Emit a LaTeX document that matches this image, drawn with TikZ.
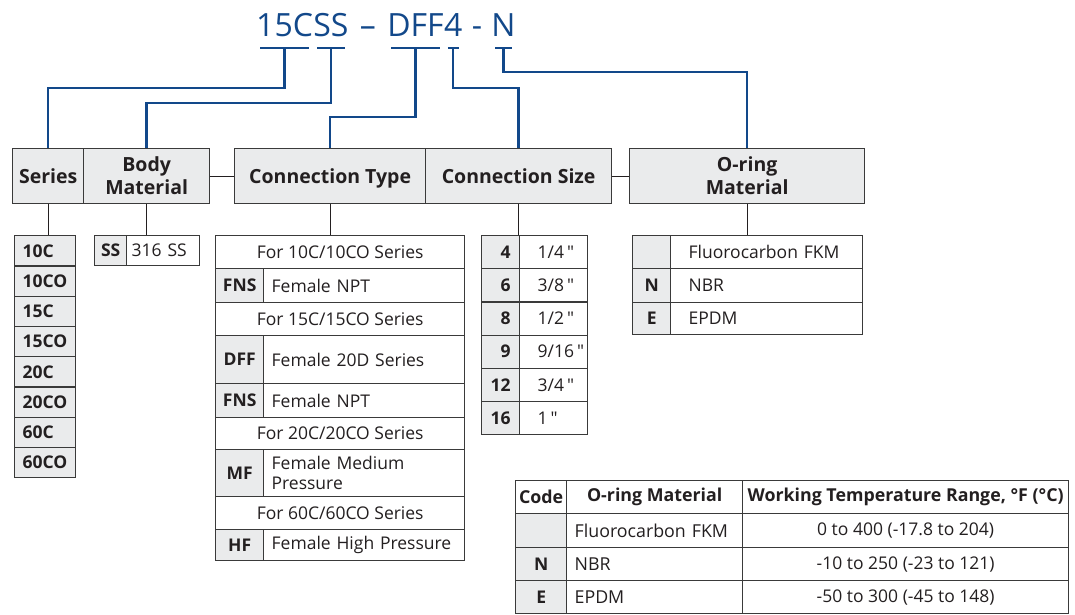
\documentclass[tikz,border=0pt]{standalone}
\usepackage{fontspec}
\setmainfont{Open Sans}[Ligatures=TeXOff]
\usetikzlibrary{calc,positioning}

\definecolor{codeblue}{RGB}{18,72,138}
\definecolor{hdrgray}{RGB}{234,235,236}
\definecolor{rulegray}{RGB}{58,58,58}
\definecolor{inkblack}{RGB}{35,31,32}

\newcommand\hdrfont{\fontsize{19.5}{23}\selectfont\bfseries}
\newcommand\cellfont{\fontsize{17.5}{20}\selectfont}
\newcommand\tabfont{\fontsize{17.8}{20}\selectfont}
\newcommand\codefont{\fontsize{32}{36}\selectfont}

\tikzset{
  cellbox/.style={draw=rulegray, line width=1.3pt, anchor=north west, inner sep=0pt, text=inkblack},
  hdrbox/.style={cellbox, fill=hdrgray, font=\hdrfont, align=center, minimum height=55pt},
  codecell/.style={cellbox, fill=hdrgray, font=\cellfont\bfseries, align=center},
  valcell/.style={cellbox, fill=white, font=\cellfont, align=left},
  forrow/.style={cellbox, fill=white, font=\cellfont, align=center, minimum width=249pt},
  codepart/.style={font=\codefont, text=codeblue, inner sep=0pt, anchor=base west},
  codeline/.style={draw=codeblue, line width=2.4pt},
  stem/.style={draw=inkblack, line width=1.2pt},
}

\begin{document}
\begin{tikzpicture}[x=1pt, y=-1pt]
  \useasboundingbox (0,0) rectangle (1075,615);

  %%%%% part number %%%%%
  \node[codepart] (c15c) at (256,37) {15C};
  \node[codepart] (css) at (c15c.base east) {SS};
  \node[codepart, inner xsep=11pt] (cdasha) at (css.base east) {–};
  \node[codepart] (cdff) at (cdasha.base east) {DFF};
  \node[codepart] (cfour) at (cdff.base east) {4};
  \node[codepart, inner xsep=9pt] (cdashb) at (cfour.base east) {-};
  \node[codepart] (cn) at (cdashb.base east) {N};

  \foreach \part/\bar in {c15c/ba, css/bb, cdff/bc, cfour/bd, cn/be} {
    \draw[codeline] ($(\part.base west)+(4,11)$) -- ($(\part.base east)+(-4,11)$);
    \coordinate (\bar) at ($(\part.base)+(0,11)$);
  }

  %%%%% headers %%%%%
  \node[hdrbox, minimum width=71pt] (series) at (12,148) {Series};
  \node[hdrbox, minimum width=126pt] (body) at (83,148) {Body\\Material};
  \node[hdrbox, minimum width=191pt, text depth=0pt] (ctype) at (234,148) {Connection Type};
  \node[hdrbox, minimum width=186pt] (csize) at (425,148) {Connection Size};
  \node[hdrbox, minimum width=235pt] (oring) at (629,148) {O-ring\\Material};

  \draw[codeline] (ba) -- ++(0,40) -| (series.north);
  \draw[codeline] (bb) -- ++(0,55) -| (body.north);
  \draw[codeline] (bc) -- ++(0,69) -| (ctype.north);
  \draw[codeline] (bd) -- ++(0,40) -| (csize.north);
  \draw[codeline] (be) -- ++(0,24) -| (oring.north);

  \draw[stem] (body.east) -- (ctype.west);
  \draw[stem] (csize.east) -- (oring.west);

  %%%%% series %%%%%
  \foreach \lab [count=\i] in {10C,10CO,15C,15CO,20C,20CO,60C,60CO}
    \node[codecell, align=left, text width=45pt, inner xsep=8pt, minimum height=30.25pt]
      (ser\i) at (14, {235+30.25*(\i-1)}) {\lab};
  \draw[stem] (series.south) -- (series.south |- ser1.north);

  %%%%% body material %%%%%
  \node[codecell, minimum width=32pt, minimum height=30pt] (ssc) at (94,235) {SS};
  \node[valcell, text width=63pt, inner xsep=5pt, minimum height=30pt] (ssv) at (126,235) {316 SS};
  \draw[stem] (body.south) -- (body.south |- ssc.north);

  %%%%% connection type %%%%%
  \node[forrow, minimum height=33pt] (cta) at (215,235) {For 10C/10CO Series};
  \node[codecell, minimum width=48pt, minimum height=34pt] (ctbc) at (215,268) {FNS};
  \node[valcell, text width=185pt, inner xsep=8pt, minimum height=34pt] (ctbv) at (263,268) {Female NPT};
  \node[forrow, minimum height=33pt] (ctc) at (215,302) {For 15C/15CO Series};
  \node[codecell, minimum width=48pt, minimum height=48pt] (ctdc) at (215,335) {DFF};
  \node[valcell, text width=185pt, inner xsep=8pt, minimum height=48pt] (ctdv) at (263,335) {Female 20D Series};
  \node[codecell, minimum width=48pt, minimum height=34pt] (ctec) at (215,383) {FNS};
  \node[valcell, text width=185pt, inner xsep=8pt, minimum height=34pt] (ctev) at (263,383) {Female NPT};
  \node[forrow, minimum height=32pt] (ctf) at (215,417) {For 20C/20CO Series};
  \node[codecell, minimum width=48pt, minimum height=47pt] (ctgc) at (215,449) {MF};
  \node[valcell, text width=185pt, inner xsep=8pt, minimum height=47pt] (ctgv) at (263,449) {Female Medium\\Pressure};
  \node[forrow, minimum height=33pt] (cth) at (215,496) {For 60C/60CO Series};
  \node[codecell, minimum width=48pt, minimum height=31pt] (ctic) at (215,529) {HF};
  \node[valcell, text width=185pt, inner xsep=8pt, minimum height=31pt] (ctiv) at (263,529) {Female High Pressure};
  \draw[stem] (ctype.south) -- (ctype.south |- cta.north);

  %%%%% connection size %%%%%
  \foreach \sz [count=\i] in {4,6,8,9,12,16}
    \node[codecell, align=right, text width=20pt, inner xsep=9pt, minimum height=33.17pt]
      (csc\i) at (481, {235+33.17*(\i-1)}) {\sz};
  \foreach \inch [count=\i] in {1/4,3/8,1/2,9/16,3/4,1}
    \node[valcell, text width=32pt, inner xsep=18pt, minimum height=33.17pt]
      (csv\i) at (519, {235+33.17*(\i-1)}) {\inch\,"};
  \draw[stem] (csize.south) -- (csize.south |- csc1.north);

  %%%%% o-ring material %%%%%
  \node[codecell, minimum width=38pt, minimum height=33pt] (ora) at (632,235) {};
  \node[valcell, text width=156pt, inner xsep=18pt, minimum height=33pt] (orav) at (670,235) {Fluorocarbon FKM};
  \node[codecell, minimum width=38pt, minimum height=34pt] (orb) at (632,268) {N};
  \node[valcell, text width=156pt, inner xsep=18pt, minimum height=34pt] (orbv) at (670,268) {NBR};
  \node[codecell, minimum width=38pt, minimum height=32pt] (orc) at (632,302) {E};
  \node[valcell, text width=156pt, inner xsep=18pt, minimum height=32pt] (orcv) at (670,302) {EPDM};
  \draw[stem] (oring.south) -- (oring.south |- ora.north);

  %%%%% temperature table %%%%%
  \node[cellbox, font=\tabfont\bfseries, minimum width=51pt, minimum height=33pt] (tha) at (515,480) {Code};
  \node[cellbox, font=\tabfont\bfseries, minimum width=176pt, minimum height=33pt] (thb) at (566,480) {O-ring Material};
  \node[cellbox, font=\tabfont\bfseries, minimum width=326pt, minimum height=33pt] (thc) at (742,480) {Working Temperature Range, °F (°C)};

  \node[codecell, minimum width=51pt, minimum height=34pt] (tra) at (515,513) {};
  \node[valcell, font=\tabfont, text width=160pt, inner xsep=8pt, minimum height=34pt] (trav) at (566,513) {Fluorocarbon FKM};
  \node[valcell, align=center, minimum width=326pt, minimum height=34pt] (trat) at (742,513) {0 to 400 (-17.8 to 204)};
  \node[codecell, minimum width=51pt, minimum height=33pt] (trb) at (515,547) {N};
  \node[valcell, font=\tabfont, text width=160pt, inner xsep=8pt, minimum height=33pt] (trbv) at (566,547) {NBR};
  \node[valcell, align=center, minimum width=326pt, minimum height=33pt] (trbt) at (742,547) {-10 to 250 (-23 to 121)};
  \node[codecell, minimum width=51pt, minimum height=33pt] (trc) at (515,580) {E};
  \node[valcell, font=\tabfont, text width=160pt, inner xsep=8pt, minimum height=33pt] (trcv) at (566,580) {EPDM};
  \node[valcell, align=center, minimum width=326pt, minimum height=33pt] (trct) at (742,580) {-50 to 300 (-45 to 148)};
\end{tikzpicture}
\end{document}
